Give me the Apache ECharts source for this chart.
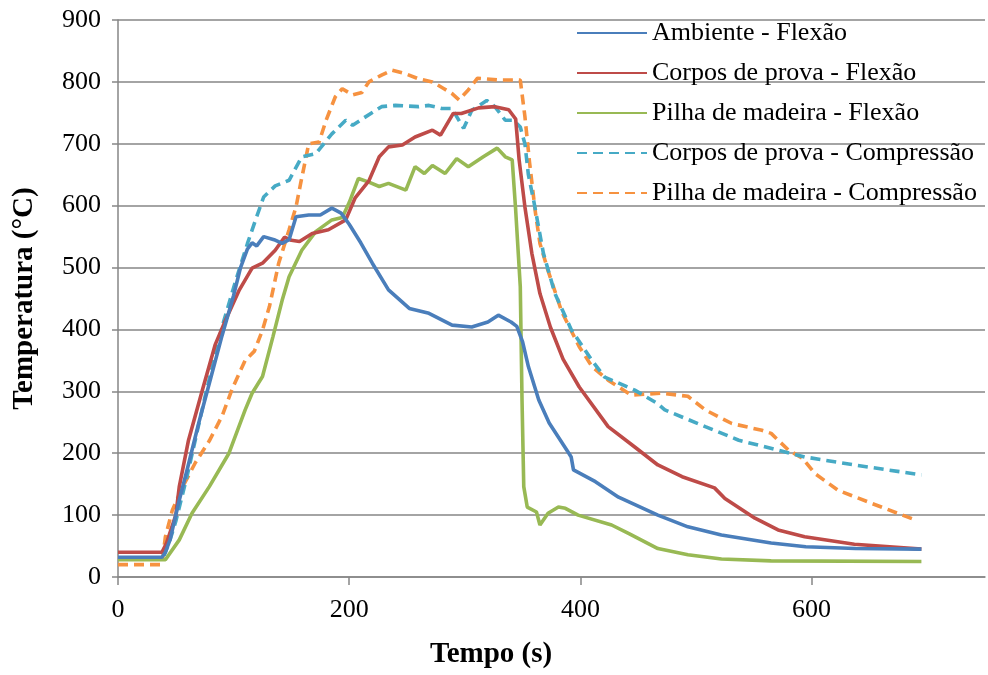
<!DOCTYPE html>
<html>
<head>
<meta charset="utf-8">
<script src="https://cdn.jsdelivr.net/npm/echarts@6/dist/echarts.min.js"></script>
<style>
html,body{margin:0;padding:0;background:#fff;}
#chart{width:988px;height:675px;}
</style>
</head>
<body>
<div id="chart"></div>
<script>
// Series names
var seriesNames = [
  'Ambiente - Flexão',
  'Corpos de prova - Flexão',
  'Pilha de madeira - Flexão',
  'Corpos de prova - Compressão',
  'Pilha de madeira - Compressão'
];

// [tempo (s), temperatura (°C)]
var ambienteFlexao = [[0,32],[38,32],[41,40],[45,60],[53,124],[60,175],[70,250],[80,320],[90,390],[100,455],[106,500],[112,530],[116,540],[120,535],[126,550],[135,545],[142,539],[148,545],[154,582],[165,585],[175,585],[185,596],[193,588],[200,570],[210,540],[220,507],[234,464],[252,434],[269,426],[289,407],[306,404],[320,412],[329,423],[340,412],[345,405],[350,380],[355,340],[364,286],[373,249],[390,200],[392,194],[394,173],[413,154],[433,129],[467,100],[493,81],[522,68],[565,55],[595,49],[638,46],[695,45]];

var corposFlexao = [[0,40],[38,40],[42,55],[50,100],[53,146],[61,221],[73,302],[84,375],[93,415],[105,464],[116,499],[125,507],[136,528],[144,549],[150,544],[157,542],[168,555],[182,561],[197,577],[205,612],[217,640],[226,679],[234,695],[246,698],[257,711],[272,722],[279,714],[290,749],[297,749],[312,758],[326,760],[338,755],[344,740],[347,674],[352,598],[358,523],[365,458],[374,404],[385,352],[399,307],[424,243],[447,210],[467,181],[488,162],[516,144],[525,127],[551,95],[571,76],[594,65],[637,53],[695,45]];

var pilhaFlexao = [[0,28],[41,28],[53,60],[64,103],[79,146],[96,200],[110,270],[116,297],[125,324],[134,388],[142,447],[148,485],[159,528],[171,558],[185,577],[194,581],[200,605],[208,644],[217,638],[226,631],[234,636],[249,625],[257,663],[265,652],[272,665],[283,652],[293,676],[303,663],[316,679],[328,693],[335,679],[341,674],[344,593],[348,469],[349.5,286],[351,146],[354,113],[362,105],[365,84],[372,103],[381,113],[387,111],[398,100],[427,84],[442,70],[467,46],[493,36],[522,29],[565,26],[695,25]];

var corposCompressao = [[0,30],[39,30],[45,60],[50,90],[60,165],[76,297],[90,404],[102,480],[112,539],[119,577],[126,614],[136,632],[148,641],[159,679],[171,684],[185,716],[197,738],[203,730],[212,741],[228,760],[240,762],[260,760],[269,762],[280,757],[289,757],[293,744],[299,725],[306,754],[319,770],[326,760],[335,738],[342,738],[348,727],[352,700],[355,650],[360,604],[368,523],[378,458],[392,400],[410,350],[421,323],[447,302],[467,280],[473,270],[508,243],[537,221],[571,205],[594,194],[637,181],[695,165]];

var pilhaCompressao = [[0,20],[38,20],[41,65],[47,108],[56,146],[67,185],[79,220],[90,260],[99,305],[110,350],[118,365],[125,399],[131,437],[139,507],[148,561],[154,598],[158,636],[165,700],[174,703],[180,738],[188,776],[194,789],[203,779],[211,783],[217,800],[228,811],[237,819],[249,813],[260,805],[272,800],[282,789],[289,781],[295,771],[303,787],[311,806],[318,805],[329,803],[338,803],[348,803],[352,744],[356,670],[361,590],[365,539],[372,495],[384,428],[399,372],[410,340],[424,318],[444,294],[470,297],[493,292],[508,270],[531,248],[557,237],[565,232],[580,205],[592,192],[603,167],[623,140],[652,119],[690,92]];

var xTicks = [0, 200, 400, 600];

var allData = [ambienteFlexao, corposFlexao, pilhaFlexao, corposCompressao, pilhaCompressao];
var colors = ['#4A7EBB', '#BE4B48', '#98B954', '#46AAC5', '#F69240'];
var dashed = [false, false, false, true, true];

var FONT = '"Liberation Serif","Times New Roman",serif';

var chart = echarts.init(document.getElementById('chart'), null, {renderer: 'canvas'});

var series = seriesNames.map(function (name, i) {
  return {
    name: name,
    type: 'line',
    data: allData[i],
    showSymbol: false,
    symbol: 'none',
    animation: false,
    lineStyle: {
      color: colors[i],
      width: 3.6,
      type: dashed[i] ? [10, 6] : 'solid'
    },
    itemStyle: { color: colors[i] },
    z: 10 - i
  };
});

chart.setOption({
  animation: false,
  backgroundColor: '#ffffff',
  grid: { left: 118, right: 3, top: 20, bottom: 98, containLabel: false, outerBoundsMode: 'none' },
  legend: {
    orient: 'vertical',
    left: 576,
    top: 20,
    padding: 0,
    itemWidth: 70,
    itemHeight: 14,
    itemGap: 14,
    itemStyle: { opacity: 0, color: 'transparent', borderWidth: 0 },
    textStyle: { fontFamily: FONT, fontSize: 26, color: '#000' },
    data: seriesNames
  },
  graphic: [{
    type: 'text',
    left: 430,
    top: 640,
    style: { text: 'Tempo (s)', font: 'bold 29px "Liberation Serif", "Times New Roman", serif', fill: '#000' }
  }],
  xAxis: {
    type: 'value',
    min: 0,
    max: 750,
    interval: 200,
    axisLine: { show: true, lineStyle: { color: '#868686', width: 1.5 } },
    axisTick: { show: true, length: 8, inside: false, customValues: xTicks, lineStyle: { color: '#868686', width: 1.5 } },
    axisLabel: { customValues: xTicks, fontFamily: FONT, fontSize: 26, color: '#000', margin: 20 },
    splitLine: { show: false }
  },
  yAxis: {
    type: 'value',
    min: 0,
    max: 900,
    interval: 100,
    name: 'Temperatura (°C)',
    nameLocation: 'middle',
    nameRotate: 90,
    nameGap: 79,
    nameTextStyle: { fontFamily: FONT, fontSize: 29, fontWeight: 'bold', color: '#000' },
    axisLine: { show: true, lineStyle: { color: '#868686', width: 1.5 } },
    axisTick: { show: true, length: 6, inside: false, lineStyle: { color: '#868686', width: 1.5 } },
    axisLabel: { fontFamily: FONT, fontSize: 26, color: '#000', margin: 17 },
    splitLine: { show: true, lineStyle: { color: '#868686', width: 1.5 } }
  },
  series: series
});
</script>
</body>
</html>
